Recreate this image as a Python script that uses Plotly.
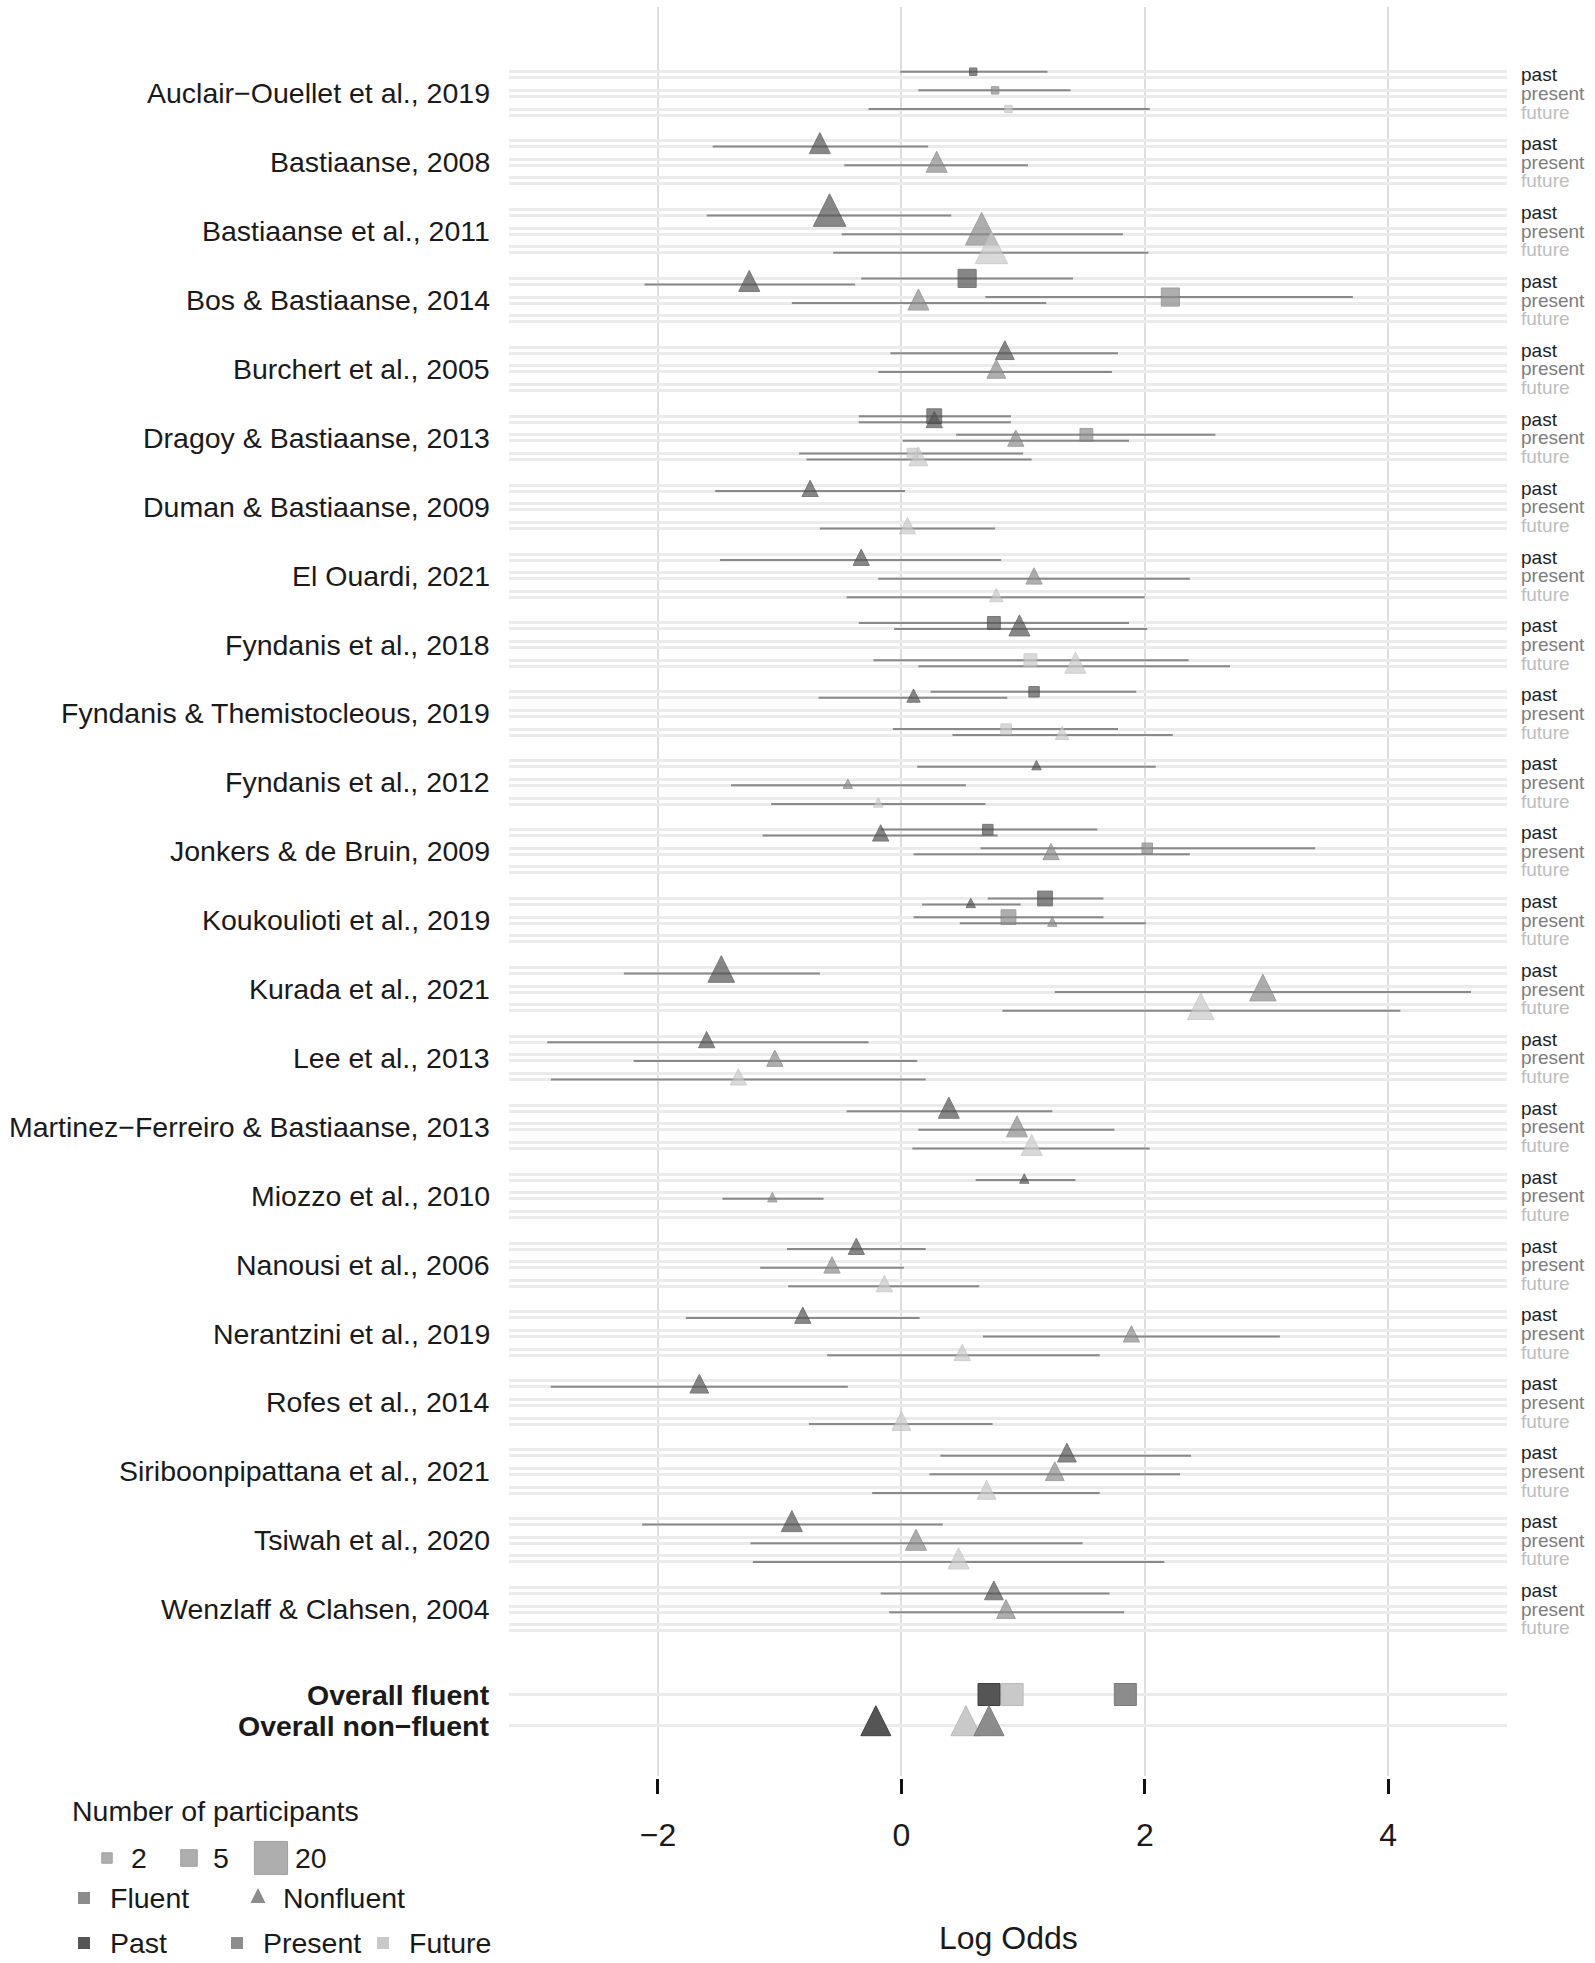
import plotly.graph_objects as go

W, H = 1595, 1963
FONT = "Liberation Sans, Arial, sans-serif"

studies = [
    "Auclair−Ouellet et al., 2019",
    "Bastiaanse, 2008",
    "Bastiaanse et al., 2011",
    "Bos & Bastiaanse, 2014",
    "Burchert et al., 2005",
    "Dragoy & Bastiaanse, 2013",
    "Duman & Bastiaanse, 2009",
    "El Ouardi, 2021",
    "Fyndanis et al., 2018",
    "Fyndanis & Themistocleous, 2019",
    "Fyndanis et al., 2012",
    "Jonkers & de Bruin, 2009",
    "Koukoulioti et al., 2019",
    "Kurada et al., 2021",
    "Lee et al., 2013",
    "Martinez−Ferreiro & Bastiaanse, 2013",
    "Miozzo et al., 2010",
    "Nanousi et al., 2006",
    "Nerantzini et al., 2019",
    "Rofes et al., 2014",
    "Siriboonpipattana et al., 2021",
    "Tsiwah et al., 2020",
    "Wenzlaff & Clahsen, 2004",
]
tenses = ["past", "present", "future"]

# one entry per estimate (F = fluent, N = nonfluent)
pt_study = [
    0, 0, 0,
    1, 1,
    2, 2, 2,
    3, 3, 3, 3,
    4, 4,
    5, 5, 5, 5, 5, 5,
    6, 6,
    7, 7, 7,
    8, 8, 8, 8,
    9, 9, 9, 9,
    10, 10, 10,
    11, 11, 11, 11,
    12, 12, 12, 12,
    13, 13, 13,
    14, 14, 14,
    15, 15, 15,
    16, 16,
    17, 17, 17,
    18, 18, 18,
    19, 19,
    20, 20, 20,
    21, 21, 21,
    22, 22,
]
pt_tense = [
    "past", "present", "future",
    "past", "present",
    "past", "present", "future",
    "past", "past", "present", "present",
    "past", "present",
    "past", "past", "present", "present", "future", "future",
    "past", "future",
    "past", "present", "future",
    "past", "past", "future", "future",
    "past", "past", "future", "future",
    "past", "present", "future",
    "past", "past", "present", "present",
    "past", "past", "present", "present",
    "past", "present", "future",
    "past", "present", "future",
    "past", "present", "future",
    "past", "present",
    "past", "present", "future",
    "past", "present", "future",
    "past", "future",
    "past", "present", "future",
    "past", "present", "future",
    "past", "present",
]
pt_group = [
    "F", "F", "F",
    "N", "N",
    "N", "N", "N",
    "F", "N", "F", "N",
    "N", "N",
    "F", "N", "F", "N", "F", "N",
    "N", "N",
    "N", "N", "N",
    "F", "N", "F", "N",
    "F", "N", "F", "N",
    "N", "N", "N",
    "F", "N", "F", "N",
    "F", "N", "F", "N",
    "N", "N", "N",
    "N", "N", "N",
    "N", "N", "N",
    "N", "N",
    "N", "N", "N",
    "N", "N", "N",
    "N", "N",
    "N", "N", "N",
    "N", "N", "N",
    "N", "N",
]
pt_est = [
    0.59, 0.77, 0.88,
    -0.67, 0.29,
    -0.59, 0.66, 0.74,
    0.54, -1.25, 2.21, 0.14,
    0.85, 0.78,
    0.27, 0.27, 1.52, 0.94, 0.09, 0.14,
    -0.75, 0.05,
    -0.33, 1.09, 0.78,
    0.76, 0.97, 1.06, 1.43,
    1.09, 0.10, 0.86, 1.32,
    1.11, -0.44, -0.19,
    0.71, -0.17, 2.02, 1.23,
    1.18, 0.57, 0.88, 1.24,
    -1.48, 2.97, 2.46,
    -1.60, -1.04, -1.34,
    0.39, 0.95, 1.07,
    1.01, -1.06,
    -0.37, -0.57, -0.14,
    -0.81, 1.89, 0.50,
    -1.66, 0.00,
    1.36, 1.26, 0.70,
    -0.90, 0.12, 0.47,
    0.76, 0.86,
]
pt_lo = [
    -0.01, 0.14, -0.27,
    -1.55, -0.47,
    -1.60, -0.49, -0.56,
    -0.33, -2.11, 0.69, -0.90,
    -0.09, -0.19,
    -0.35, -0.35, 0.45, 0.01, -0.84, -0.78,
    -1.53, -0.67,
    -1.49, -0.19, -0.45,
    -0.35, -0.06, -0.23, 0.14,
    0.24, -0.68, -0.07, 0.42,
    0.13, -1.40, -1.07,
    -0.17, -1.14, 0.65, 0.10,
    0.71, 0.17, 0.10, 0.48,
    -2.28, 1.26, 0.83,
    -2.91, -2.20, -2.88,
    -0.45, 0.14, 0.09,
    0.61, -1.47,
    -0.94, -1.16, -0.93,
    -1.77, 0.67, -0.61,
    -2.88, -0.76,
    0.32, 0.23, -0.24,
    -2.13, -1.24, -1.22,
    -0.17, -0.10,
]
pt_hi = [
    1.20, 1.39, 2.04,
    0.22, 1.04,
    0.41, 1.82, 2.03,
    1.41, -0.38, 3.71, 1.19,
    1.78, 1.73,
    0.90, 0.90, 2.58, 1.87, 1.00, 1.07,
    0.03, 0.77,
    0.82, 2.37, 2.00,
    1.87, 2.02, 2.36, 2.70,
    1.93, 0.87, 1.78, 2.23,
    2.09, 0.53, 0.69,
    1.61, 0.79, 3.40, 2.37,
    1.66, 0.98, 1.66, 2.01,
    -0.67, 4.68, 4.10,
    -0.27, 0.13, 0.20,
    1.24, 1.75, 2.04,
    1.43, -0.64,
    0.20, 0.02, 0.64,
    0.15, 3.11, 1.63,
    -0.44, 0.75,
    2.38, 2.29, 1.63,
    0.34, 1.49, 2.16,
    1.71, 1.83,
]
pt_n = [
    1, 1, 1,
    5, 5,
    12, 12, 12,
    6, 5, 6, 5,
    4, 4,
    4, 3, 3, 3, 2, 4,
    3, 3,
    3, 3, 2,
    3, 5, 3, 5,
    2, 2, 2, 2,
    1, 1, 1,
    2, 3, 2, 3,
    4, 1, 4, 1,
    8, 8, 8,
    3, 3, 3,
    5, 5, 5,
    1, 1,
    3, 3, 3,
    3, 3, 3,
    4, 4,
    4, 4, 4,
    5, 5, 5,
    4, 4,
]

overall_labels = ["Overall fluent", "Overall non−fluent"]
overall_tense = ["future", "present", "past"]
overall_fluent = [0.91, 1.84, 0.72]
overall_nonfluent = [0.53, 0.72, -0.21]

legend_sizes = [2, 5, 20]

# ---- styling / layout helpers ----
tense_fill = {"past": "#555555", "present": "#8c8c8c", "future": "#c9c9c9"}
tense_edge = {"past": "#404040", "present": "#7a7a7a", "future": "#bbbbbb"}
tense_text = {"past": "#1e1e1e", "present": "#7d7d7d", "future": "#bdbdbd"}
BAR_COLOR = "#898989"

# vertical layout in page pixels from the top
ROW0 = 71.7
STUDY_STEP = 68.9
TENSE_STEP = 18.65
DODGE = 6.0
OVERALL_ROW0 = 1694.5
OVERALL_STEP = 31.2
PANEL_TOP, PANEL_BOTTOM = 7, 1776
PANEL_LEFT, PANEL_RIGHT = 509, 1507


def row_y(study, tense, group):
    return ROW0 + study * STUDY_STEP + tenses.index(tense) * TENSE_STEP + (DODGE if group == "N" else 0)


def sq_size(n):
    return 7.4 * n ** 0.5


def tri_size(n):
    return 9.4 * n ** 0.5


def tip(y, size):
    # arrow-up markers hang from their tip; lift so the line goes through the centroid
    return y - size * 2 / 3


fig = go.Figure()

# error bars
ex, ey = [], []
for s, t, g, lo, hi in zip(pt_study, pt_tense, pt_group, pt_lo, pt_hi):
    y = row_y(s, t, g)
    ex += [lo, hi, None]
    ey += [y, y, None]
fig.add_trace(go.Scatter(x=ex, y=ey, mode="lines", line=dict(color=BAR_COLOR, width=2),
                         hoverinfo="skip", showlegend=False))

# nonfluent triangles, then fluent squares
for grp in ["N", "F"]:
    xs, ys, sz, cl, lc = [], [], [], [], []
    for s, t, g, e, n in zip(pt_study, pt_tense, pt_group, pt_est, pt_n):
        if g != grp:
            continue
        y = row_y(s, t, g)
        if grp == "N":
            size = tri_size(n)
            y = tip(y, size)
        else:
            size = sq_size(n)
        xs.append(e)
        ys.append(y)
        sz.append(size)
        cl.append(tense_fill[t])
        lc.append(tense_edge[t])
    fig.add_trace(go.Scatter(
        x=xs, y=ys, mode="markers", showlegend=False,
        marker=dict(symbol="arrow-up" if grp == "N" else "square", size=sz, color=cl,
                    line=dict(width=1, color=lc))))

# overall estimates
fig.add_trace(go.Scatter(
    x=overall_fluent, y=[OVERALL_ROW0] * 3, mode="markers", showlegend=False,
    marker=dict(symbol="square", size=22, color=[tense_fill[t] for t in overall_tense],
                line=dict(width=1, color=[tense_edge[t] for t in overall_tense]))))
fig.add_trace(go.Scatter(
    x=overall_nonfluent, y=[tip(OVERALL_ROW0 + OVERALL_STEP, 30)] * 3, mode="markers", showlegend=False,
    marker=dict(symbol="arrow-up", size=30, color=[tense_fill[t] for t in overall_tense],
                line=dict(width=1, color=[tense_edge[t] for t in overall_tense]))))

# horizontal guide stripes
stripes = []
for i in range(len(studies)):
    for t in tenses:
        stripes += [row_y(i, t, "F"), row_y(i, t, "N")]
stripes += [OVERALL_ROW0, OVERALL_ROW0 + OVERALL_STEP]

ann = []
for i, name in enumerate(studies):
    ann.append(dict(x=(PANEL_LEFT - 17) / W, xref="paper", xanchor="right",
                    y=row_y(i, "present", "F") + 3, yref="y", yanchor="middle",
                    text=name, showarrow=False, font=dict(size=28.5, color="#1a1a1a")))
    for t in tenses:
        ann.append(dict(x=(PANEL_RIGHT + 12) / W, xref="paper", xanchor="left",
                        y=row_y(i, t, "F") + 3, yref="y", yanchor="middle",
                        text=t, showarrow=False, font=dict(size=19, color=tense_text[t])))
for k, lab in enumerate(overall_labels):
    ann.append(dict(x=(PANEL_LEFT - 17) / W, xref="paper", xanchor="right",
                    y=OVERALL_ROW0 + k * OVERALL_STEP, yref="y", yanchor="middle",
                    text="<b>" + lab + "</b>", showarrow=False, font=dict(size=28.5, color="#1a1a1a")))

ann.append(dict(x=(PANEL_LEFT + PANEL_RIGHT) / 2 / W, xref="paper", xanchor="center",
                y=1 - 1938 / H, yref="paper", yanchor="middle", text="Log Odds",
                showarrow=False, font=dict(size=32, color="#1a1a1a")))


# ---- hand-made legend (page pixel coordinates on an overlay axis) ----
def leg_text(x, y, text):
    ann.append(dict(x=x, xref="x2", xanchor="left", y=y, yref="y2", yanchor="middle",
                    text=text, showarrow=False, font=dict(size=28.5, color="#1a1a1a")))


leg_text(70, 1811, "Number of participants")
size_keys_x = [107, 189, 271]
fig.add_trace(go.Scatter(x=size_keys_x, y=[1858] * 3, xaxis="x2", yaxis="y2", mode="markers",
                         showlegend=False, hoverinfo="skip",
                         marker=dict(symbol="square", size=[sq_size(n) for n in legend_sizes],
                                     color="#8c8c8c", line=dict(width=1, color="#7a7a7a"))))
for kx, n in zip(size_keys_x, legend_sizes):
    leg_text(kx + 22, 1858, str(n))

fig.add_trace(go.Scatter(x=[84], y=[1898], xaxis="x2", yaxis="y2", mode="markers", showlegend=False,
                         hoverinfo="skip", marker=dict(symbol="square", size=12, color="#8c8c8c")))
fig.add_trace(go.Scatter(x=[258], y=[tip(1898, 15)], xaxis="x2", yaxis="y2", mode="markers",
                         showlegend=False, hoverinfo="skip",
                         marker=dict(symbol="arrow-up", size=15, color="#8c8c8c", line=dict(width=0))))
leg_text(108, 1898, "Fluent")
leg_text(281, 1898, "Nonfluent")

tense_keys_x = [84, 237, 383]
fig.add_trace(go.Scatter(x=tense_keys_x, y=[1943] * 3, xaxis="x2", yaxis="y2", mode="markers",
                         showlegend=False, hoverinfo="skip",
                         marker=dict(symbol="square", size=12, color=[tense_fill[t] for t in tenses])))
for kx, t in zip(tense_keys_x, tenses):
    leg_text(kx + 24, 1943, t.capitalize())

fig.update_layout(
    width=W, height=H,
    margin=dict(l=0, r=0, t=0, b=0),
    paper_bgcolor="white", plot_bgcolor="rgba(0,0,0,0)",
    font=dict(family=FONT, color="#1a1a1a"),
    showlegend=False,
    annotations=ann,
    xaxis=dict(domain=[PANEL_LEFT / W, PANEL_RIGHT / W], range=[-3.224, 4.976],
               tickvals=[-2, 0, 2, 4], ticktext=["−2", "0", "2", "4"],
               showgrid=True, gridcolor="#dedede", gridwidth=2, zeroline=False,
               anchor="free", position=1 - 1778 / H,
               ticks="outside", ticklen=15, tickwidth=2.5, tickcolor="#111111",
               ticklabelstandoff=14, tickfont=dict(size=32, color="#1a1a1a"), showline=False),
    yaxis=dict(domain=[1 - PANEL_BOTTOM / H, 1 - PANEL_TOP / H], range=[PANEL_BOTTOM, PANEL_TOP],
               tickvals=stripes, showticklabels=False, ticks="",
               showgrid=True, gridcolor="#ebebeb", gridwidth=3, zeroline=False, showline=False),
    xaxis2=dict(domain=[0, 1], range=[0, W], visible=False, anchor="y2"),
    yaxis2=dict(domain=[0, 1], range=[H, 0], visible=False, anchor="x2"),
)

# the page body has a default 8px margin; drop it so the figure fills the window exactly
fig.write_html("out.html", config={"displayModeBar": False},
               post_script="document.body.style.margin = '0';")
